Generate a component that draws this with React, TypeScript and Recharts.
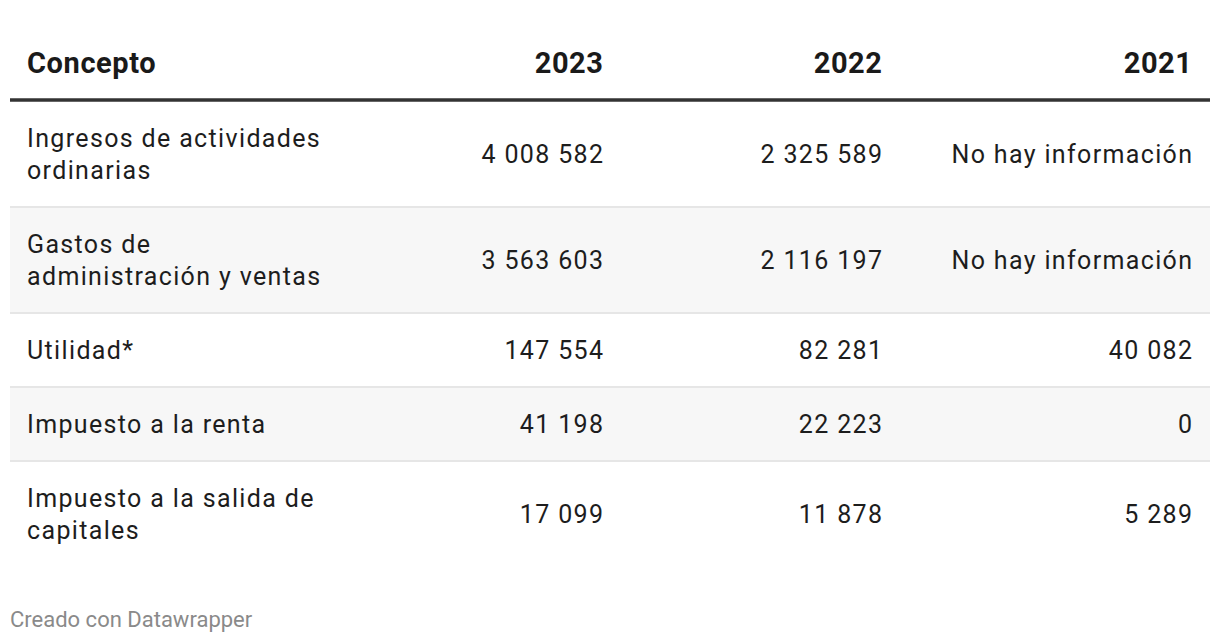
import React from "react";
import {
  ComposedChart,
  Scatter,
  XAxis,
  YAxis,
  ReferenceArea,
  ReferenceLine,
  Customized,
} from "recharts";

// ---- data ----
const headers = ["Concepto", "2023", "2022", "2021"];
const concepts: string[][] = [
  ["Ingresos de actividades", "ordinarias"],
  ["Gastos de", "administración y ventas"],
  ["Utilidad*"],
  ["Impuesto a la renta"],
  ["Impuesto a la salida de", "capitales"],
];
const values2023: (number | null)[] = [4008582, 3563603, 147554, 41198, 17099];
const values2022: (number | null)[] = [2325589, 2116197, 82281, 22223, 11878];
const values2021: (number | null)[] = [null, null, 40082, 0, 5289];
const missingText = "No hay información";
const footerText = "Creado con Datawrapper";

// ---- layout constants ----
const W = 1220;
const H = 642;
const LINE_H = 32;
const ROW_PAD = 42;
const RULE = 1; // units reserved for header rule
const colAnchors = [17, 593, 872, 1182]; // in table x units (0..1200)
const FONT = "Roboto, 'Noto Sans', sans-serif";
const TEXT = "#1d1d1d";
const LS = 1.35;

// rows geometry in table units (1 unit = 1px)
const rowHeights = concepts.map((c) => ROW_PAD + LINE_H * c.length);
const rowStarts: number[] = [];
rowHeights.reduce((acc, h) => {
  rowStarts.push(acc);
  return acc + h;
}, RULE);
const total = RULE + rowHeights.reduce((a, b) => a + b, 0);

const fmt = (v: number | null) =>
  v === null ? missingText : v.toString().replace(/\B(?=(\d{3})+(?!\d))/g, " ");

const colValues = [values2023, values2022, values2021];

const conceptPoints = concepts.map((lines, i) => ({
  x: colAnchors[0],
  y: rowStarts[i] + rowHeights[i] / 2,
  lines,
}));
const valuePoints = colValues.map((vals, c) =>
  vals.map((v, i) => ({
    x: colAnchors[c + 1],
    y: rowStarts[i] + rowHeights[i] / 2,
    label: fmt(v),
  }))
);

const ConceptShape = (props: any) => {
  const { cx, cy, payload } = props;
  const n = payload.lines.length;
  return (
    <text
      x={cx}
      fontFamily={FONT}
      fontSize={25}
      fill={TEXT}
      textAnchor="start"
      style={{ letterSpacing: `${LS}px` }}
    >
      {payload.lines.map((l: string, k: number) => (
        <tspan key={k} x={cx} y={cy + (k - (n - 1) / 2) * LINE_H + 9}>
          {l}
        </tspan>
      ))}
    </text>
  );
};

const ValueShape = (props: any) => {
  const { cx, cy, payload } = props;
  return (
    <text
      x={cx + LS}
      y={cy + 9}
      fontFamily={FONT}
      fontSize={25}
      fill={TEXT}
      textAnchor="end"
      style={{ letterSpacing: `${LS}px` }}
    >
      {payload.label}
    </text>
  );
};

const HeaderTick = (props: any) => {
  const { x, payload, index } = props;
  const idx = colAnchors.indexOf(payload.value);
  return (
    <text
      x={idx === 0 ? x : x + 0.6}
      y={73}
      fontFamily={FONT}
      fontSize={29}
      fontWeight={700}
      fill="#1a1a1a"
      textAnchor={idx === 0 ? "start" : "end"}
      style={{ letterSpacing: "0.6px" }}
    >
      {headers[idx >= 0 ? idx : index]}
    </text>
  );
};

const Footer = () => (
  <text x={10} y={627} fontFamily={FONT} fontSize={22} fill="#8a8a8a">
    {footerText}
  </text>
);

export default function App() {
  return (
    <div
      style={{
        position: "absolute",
        left: 0,
        top: 0,
        width: W,
        height: H,
        background: "#fff",
        fontFamily: FONT,
      }}
    >
      <ComposedChart
        width={W}
        height={H}
        margin={{ top: 70, right: 10, bottom: H - 567, left: 10 }}
      >
        <XAxis
          xAxisId="t"
          type="number"
          dataKey="x"
          orientation="top"
          domain={[0, 1200]}
          ticks={colAnchors}
          tick={<HeaderTick />}
          axisLine={false}
          tickLine={false}
          height={30}
          interval={0}
          allowDataOverflow
        />
        <YAxis
          yAxisId="t"
          type="number"
          dataKey="y"
          domain={[0, total]}
          reversed
          hide
          allowDataOverflow
        />
        {rowStarts.map((s, i) =>
          i % 2 === 1 ? (
            <ReferenceArea
              key={"a" + i}
              xAxisId="t"
              yAxisId="t"
              x1={0}
              x2={1200}
              y1={s}
              y2={s + rowHeights[i]}
              fill="#f7f7f7"
              fillOpacity={1}
              stroke="none"
              ifOverflow="extendDomain"
            />
          ) : null
        )}
        {rowStarts.slice(1).map((s, i) => (
          <ReferenceLine
            key={"l" + i}
            xAxisId="t"
            yAxisId="t"
            y={s}
            stroke="#e6e6e6"
            strokeWidth={2}
          />
        ))}
        <ReferenceLine xAxisId="t" yAxisId="t" y={0} stroke="#333333" strokeWidth={3.5} />
        <Scatter
          xAxisId="t"
          yAxisId="t"
          data={conceptPoints}
          dataKey="y"
          shape={<ConceptShape />}
          isAnimationActive={false}
        />
        {valuePoints.map((pts, c) => (
          <Scatter
            key={"s" + c}
            xAxisId="t"
            yAxisId="t"
            data={pts}
            dataKey="y"
            shape={<ValueShape />}
            isAnimationActive={false}
          />
        ))}
        <Customized component={Footer} />
      </ComposedChart>
    </div>
  );
}
